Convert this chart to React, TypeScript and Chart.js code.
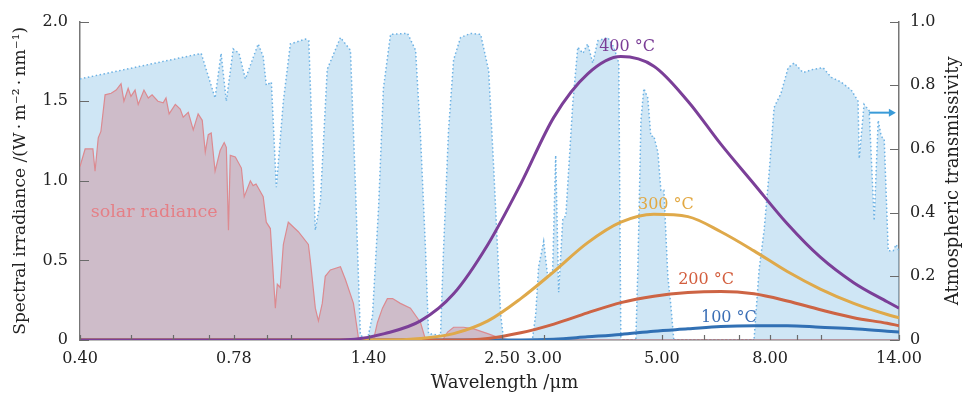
import React, { useEffect, useRef } from 'react';
import { Chart, registerables } from 'chart.js';

Chart.register(...registerables);

const FONT_FAMILY = "'DejaVu Serif', 'Liberation Serif', serif";

// ---- axis ticks ----
const xMajorTicks = [0.4, 0.78, 1.4, 2.5, 3, 5, 8, 14];
const xMinorTicks = [0.5, 0.6, 0.7, 0.9, 1, 6, 7, 9, 10];
const yLeftTicks = [0, 0.5, 1, 1.5, 2];
const yRightTicks = [0, 0.2, 0.4, 0.6, 0.8, 1];

// ---- atmospheric transmissivity (right axis) ----
const transWavelength = [
  0.40, 0.677, 0.719, 0.738, 0.755, 0.778, 0.798, 0.820, 0.867, 0.886,
  0.898, 0.918, 0.938, 0.967, 0.997, 1.064, 1.08, 1.111, 1.136, 1.170,
  1.239, 1.294, 1.322, 1.351, 1.393, 1.424, 1.462, 1.493, 1.540, 1.658,
  1.717, 1.754, 1.793, 1.816, 1.913, 1.938, 1.981, 2.025, 2.087, 2.180,
  2.277, 2.358, 2.410, 2.484, 2.516, 2.85, 2.892, 2.929, 2.994, 3.046,
  3.113, 3.154, 3.195, 3.253, 3.296, 3.396, 3.472, 3.549, 3.624, 3.705,
  3.788, 3.954, 4.058, 4.148, 4.185, 4.467, 4.507, 4.567, 4.625, 4.705,
  4.767, 4.830, 4.916, 4.980, 5.045, 5.132, 5.199, 5.267, 7.461, 7.627,
  7.795, 7.963, 8.140, 8.389, 8.651, 8.880, 9.232, 9.647, 10.07, 10.43,
  10.89, 11.38, 11.72, 11.78, 12.03, 12.30, 12.57, 12.79, 12.96, 13.13,
  13.36, 13.65, 13.83, 14.0,
];
const transValue = [
  0.82, 0.90, 0.76, 0.90, 0.75, 0.914, 0.90, 0.82, 0.93, 0.89,
  0.80, 0.81, 0.48, 0.75, 0.93, 0.945, 0.94, 0.345, 0.44, 0.85,
  0.95, 0.91, 0.49, 0.015, 0.0, 0.077, 0.415, 0.79, 0.96, 0.963,
  0.91, 0.64, 0.28, 0.02, 0.015, 0.28, 0.66, 0.88, 0.95, 0.963,
  0.96, 0.846, 0.54, 0.08, 0, 0, 0.08, 0.23, 0.31, 0.2,
  0.22, 0.58, 0.15, 0.38, 0.39, 0.74, 0.92, 0.90, 0.93, 0.87,
  0.94, 0.95, 0.92, 0.87, 0, 0, 0.23, 0.69, 0.79, 0.76,
  0.64, 0.64, 0.59, 0.47, 0.47, 0.2, 0.11, 0, 0, 0.22,
  0.345, 0.52, 0.73, 0.775, 0.855, 0.87, 0.84, 0.85, 0.855, 0.825,
  0.81, 0.785, 0.75, 0.57, 0.74, 0.72, 0.375, 0.69, 0.64, 0.63,
  0.28, 0.28, 0.30, 0.28,
];

// ---- solar spectral irradiance (left axis) ----
const solarWavelength = [
  0.400, 0.409, 0.423, 0.427, 0.433, 0.438, 0.446, 0.458, 0.468, 0.478,
  0.484, 0.493, 0.499, 0.508, 0.515, 0.528, 0.538, 0.547, 0.561, 0.574,
  0.581, 0.589, 0.605, 0.618, 0.626, 0.640, 0.654, 0.668, 0.680, 0.689,
  0.698, 0.707, 0.719, 0.735, 0.748, 0.755, 0.762, 0.768, 0.785, 0.806,
  0.816, 0.838, 0.848, 0.859, 0.886, 0.898, 0.914, 0.934, 0.942, 0.954,
  0.967, 0.988, 1.032, 1.078, 1.087, 1.111, 1.126, 1.145, 1.160, 1.186,
  1.239, 1.266, 1.311, 1.340, 1.351, 1.430, 1.455, 1.487, 1.519, 1.554,
  1.607, 1.679, 1.754, 1.793, 1.930, 1.973, 2.025, 2.115, 2.210, 2.348,
  2.484, 2.6, 14,
];
const solarValue = [
  1.09, 1.20, 1.20, 1.06, 1.27, 1.31, 1.54, 1.55, 1.57, 1.61,
  1.50, 1.58, 1.53, 1.57, 1.48, 1.57, 1.52, 1.54, 1.50, 1.49,
  1.52, 1.42, 1.48, 1.45, 1.40, 1.43, 1.32, 1.42, 1.38, 1.18,
  1.29, 1.30, 1.06, 1.19, 1.24, 1.21, 0.69, 1.16, 1.15, 1.08,
  0.90, 1.00, 0.97, 0.98, 0.90, 0.74, 0.70, 0.20, 0.35, 0.33,
  0.60, 0.74, 0.68, 0.60, 0.50, 0.20, 0.12, 0.23, 0.40, 0.44,
  0.46, 0.38, 0.23, 0.01, 0, 0, 0.11, 0.20, 0.26, 0.26,
  0.23, 0.20, 0.11, 0, 0, 0.05, 0.08, 0.08, 0.07, 0.04,
  0.01, 0, 0,
];

// ---- blackbody spectral irradiance (left axis) ----
const planckWavelength = [0.4, 1.2, 1.32, 1.5, 1.754, 2.025, 2.35, 2.71, 3.13, 3.62, 4.185, 4.83, 5.6, 6.46, 7.46, 8.62, 9.95, 11.5, 13.3, 14];
const radiance400 = [0, 0, 0.005, 0.04, 0.12, 0.29, 0.60, 0.98, 1.40, 1.67, 1.78, 1.72, 1.50, 1.23, 0.98, 0.73, 0.52, 0.36, 0.24, 0.20];
const radiance300 = [0, 0, 0, 0, 0.01, 0.04, 0.12, 0.26, 0.43, 0.61, 0.74, 0.79, 0.775, 0.68, 0.56, 0.43, 0.32, 0.23, 0.16, 0.14];
const radiance200 = [0, 0, 0, 0, 0, 0, 0.01, 0.045, 0.10, 0.17, 0.235, 0.275, 0.298, 0.305, 0.29, 0.245, 0.19, 0.14, 0.105, 0.09];
const radiance100 = [0, 0, 0, 0, 0, 0, 0, 0, 0.005, 0.02, 0.035, 0.055, 0.07, 0.085, 0.09, 0.09, 0.08, 0.07, 0.055, 0.05];

// ---- in-plot labels (wavelength, left-axis value) ----
const labelTexts = ['400 °C', '300 °C', '200 °C', '100 °C', 'solar radiance'];
const labelWavelength = [4.30, 5.09, 6.06, 6.69, 0.552];
const labelValue = [1.84, 0.85, 0.38, 0.14, 0.80];
const labelColors = ['#7a3d96', '#e2a842', '#d35e3e', '#3b6fb6', '#e57f86'];
const labelSizes = [16, 16, 16, 16, 17.5];

// arrow pointing to the transmissivity axis (wavelength from/to, transmissivity)
const arrowWavelength = [12.3, 13.75];
const arrowValue = 0.714;

const pts = (xs: number[], ys: number[]) => xs.map((x, i) => ({ x, y: ys[i] }));

const fmtY = (v: number) => (v === 0 ? '0' : v.toFixed(1));

const inwardTicks = {
  id: 'inwardTicks',
  afterDatasetsDraw(chart: any) {
    const { ctx, chartArea: a, scales } = chart;
    ctx.save();
    ctx.strokeStyle = '#6a6a6a';
    ctx.lineWidth = 1.2;
    ctx.beginPath();
    [...xMajorTicks, ...xMinorTicks].forEach((v) => {
      const px = Math.round(scales.x.getPixelForValue(v)) + 0.5;
      ctx.moveTo(px, a.bottom);
      ctx.lineTo(px, a.bottom - 5);
    });
    yLeftTicks.forEach((v) => {
      const py = Math.round(scales.y.getPixelForValue(v)) + 0.5;
      ctx.moveTo(a.left, py);
      ctx.lineTo(a.left + 9, py);
    });
    yRightTicks.forEach((v) => {
      const py = Math.round(scales.y2.getPixelForValue(v)) + 0.5;
      ctx.moveTo(a.right, py);
      ctx.lineTo(a.right - 9, py);
    });
    ctx.stroke();
    ctx.restore();
  },
};

const annotations = {
  id: 'annotations',
  afterDatasetsDraw(chart: any) {
    const { ctx, scales, chartArea: a } = chart;
    ctx.save();
    ctx.textAlign = 'center';
    ctx.textBaseline = 'middle';
    labelTexts.forEach((t, i) => {
      ctx.font = `${labelSizes[i]}px ${FONT_FAMILY}`;
      ctx.fillStyle = labelColors[i];
      ctx.fillText(t, scales.x.getPixelForValue(labelWavelength[i]), scales.y.getPixelForValue(labelValue[i]));
    });
    // arrow
    const x1 = scales.x.getPixelForValue(arrowWavelength[0]);
    const x2 = scales.x.getPixelForValue(arrowWavelength[1]);
    const ay = scales.y2.getPixelForValue(arrowValue);
    ctx.strokeStyle = '#3a9bd8';
    ctx.fillStyle = '#3a9bd8';
    ctx.lineWidth = 2;
    ctx.beginPath();
    ctx.moveTo(x1, ay);
    ctx.lineTo(x2 - 4, ay);
    ctx.stroke();
    ctx.beginPath();
    ctx.moveTo(x2 + 1, ay);
    ctx.lineTo(x2 - 6, ay - 4);
    ctx.lineTo(x2 - 6, ay + 4);
    ctx.closePath();
    ctx.fill();
    // x axis title (slightly right of centre, as in the original)
    ctx.fillStyle = '#222';
    ctx.font = `18px ${FONT_FAMILY}`;
    ctx.fillText('Wavelength /μm', (a.left + a.right) / 2 + 15, a.bottom + 43);
    // right axis title (reads bottom to top)
    ctx.translate(953, (a.top + a.bottom) / 2);
    ctx.rotate(-Math.PI / 2);
    ctx.fillText('Atmospheric transmissivity', 0, 0);
    ctx.restore();
  },
};

export default function App() {
  const ref = useRef<HTMLCanvasElement>(null);

  useEffect(() => {
    const font = { family: FONT_FAMILY, size: 16 };
    const curve = (label: string, ys: number[], color: string, order: number) => ({
      label,
      data: pts(planckWavelength, ys),
      borderColor: color,
      borderWidth: 3,
      pointRadius: 0,
      fill: false,
      cubicInterpolationMode: 'monotone' as const,
      yAxisID: 'y',
      order,
    });
    const chart = new Chart(ref.current!, {
      type: 'line',
      data: {
        datasets: [
          {
            label: 'Atmospheric transmissivity',
            data: pts(transWavelength, transValue),
            borderColor: '#6db2e4',
            borderWidth: 1.5,
            borderDash: [1.5, 2.5],
            backgroundColor: 'rgba(160,205,236,0.5)',
            fill: 'origin',
            pointRadius: 0,
            tension: 0,
            yAxisID: 'y2',
            order: 10,
          },
          {
            label: 'solar radiance',
            data: pts(solarWavelength, solarValue),
            borderColor: '#dc8a90',
            borderWidth: 1.2,
            backgroundColor: 'rgba(205,138,148,0.45)',
            fill: 'origin',
            pointRadius: 0,
            tension: 0,
            yAxisID: 'y',
            order: 9,
          },
          curve('100 °C', radiance100, '#3170b4', 4),
          curve('200 °C', radiance200, '#cd6444', 3),
          curve('300 °C', radiance300, '#dfa94a', 2),
          curve('400 °C', radiance400, '#7b3f98', 1),
        ] as any,
      },
      options: {
        responsive: false,
        devicePixelRatio: 1,
        animation: false,
        layout: { padding: { top: 15, left: 0, right: 0, bottom: 0 } },
        plugins: { legend: { display: false }, tooltip: { enabled: false } },
        elements: { point: { radius: 0 } },
        scales: {
          x: {
            type: 'logarithmic',
            position: 'bottom',
            min: 0.4,
            max: 14,
            grid: { display: false, drawTicks: false },
            border: { display: true, color: '#777', width: 1.5 },
            afterBuildTicks: (s: any) => {
              s.ticks = xMajorTicks.map((v) => ({ value: v }));
            },
            afterFit: (s: any) => {
              s.height = 60;
            },
            ticks: {
              autoSkip: false,
              maxRotation: 0,
              minRotation: 0,
              padding: 9,
              color: '#222',
              font,
              callback: (v: any) => Number(v).toFixed(2),
            },
            title: { display: false },
          },
          y: {
            type: 'linear',
            position: 'left',
            min: 0,
            max: 2,
            grid: { display: false, drawTicks: false },
            border: { display: true, color: '#777', width: 1.5 },
            afterBuildTicks: (s: any) => {
              s.ticks = yLeftTicks.map((v) => ({ value: v }));
            },
            afterFit: (s: any) => {
              s.width = 80;
            },
            ticks: {
              padding: 12,
              color: '#222',
              font,
              callback: (v: any) => fmtY(Number(v)),
            },
            title: {
              display: true,
              text: 'Spectral irradiance /(W\u2009·\u2009m⁻²\u2009·\u2009nm⁻¹)',
              color: '#222',
              font: { family: FONT_FAMILY, size: 17 },
              padding: { top: 10, bottom: 0 },
            },
          },
          y2: {
            type: 'linear',
            position: 'right',
            min: 0,
            max: 1,
            grid: { display: false, drawTicks: false },
            border: { display: true, color: '#777', width: 1.5 },
            afterBuildTicks: (s: any) => {
              s.ticks = yRightTicks.map((v) => ({ value: v }));
            },
            afterFit: (s: any) => {
              s.width = 66;
            },
            ticks: {
              padding: 11,
              color: '#222',
              font,
              callback: (v: any) => fmtY(Number(v)),
            },
          },
        },
      } as any,
      plugins: [inwardTicks, annotations],
    });
    return () => chart.destroy();
  }, []);

  return (
    <div style={{ position: 'absolute', left: 0, top: 0, width: 965, height: 400, background: '#fff' }}>
      <canvas ref={ref} width={965} height={400} style={{ width: 965, height: 400, display: 'block' }} />
    </div>
  );
}
